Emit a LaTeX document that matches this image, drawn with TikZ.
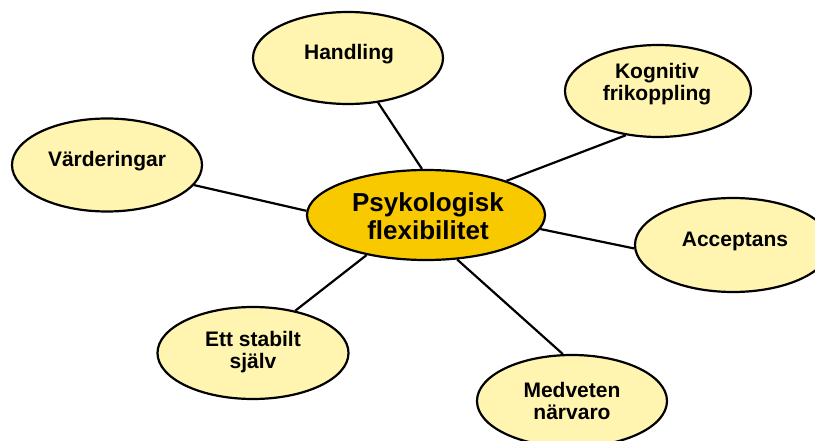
\documentclass[tikz,border=0pt]{standalone}
\usepackage{fontspec}
\setmainfont{Liberation Sans}
\usetikzlibrary{shapes.geometric}
\definecolor{pale}{HTML}{FFF5B0}
\definecolor{gold}{HTML}{F9C900}
\begin{document}
\begin{tikzpicture}[x=1pt,y=-1pt,
  bub/.style={ellipse, draw=black, line width=2.2pt, fill=pale, inner sep=0pt},
  lbl/.style={font=\fontsize{21}{22.5}\selectfont\bfseries, align=center, inner sep=0pt},
  biglbl/.style={font=\fontsize{26}{28}\selectfont\bfseries, align=center, inner sep=0pt},
  conn/.style={line width=2.2pt}]
\useasboundingbox (0,0) rectangle (815,441);
\begin{scope}
\clip (0,0) rectangle (815,441);
% ellipses
\node[bub, fill=gold, minimum width=238pt, minimum height=90pt] (c) at (426,215) {};
\node[bub, minimum width=190pt, minimum height=92pt] (h) at (348,58) {};
\node[bub, minimum width=186pt, minimum height=92pt] (k) at (658,91) {};
\node[bub, minimum width=190pt, minimum height=93pt] (v) at (107,165) {};
\node[bub, minimum width=196pt, minimum height=94pt] (a) at (733,245) {};
\node[bub, minimum width=191pt, minimum height=92pt] (e) at (253,353) {};
\node[bub, minimum width=190pt, minimum height=92pt] (m) at (572,401) {};
% labels
\node[biglbl] (ct) at (428,216) {Psykologisk\\flexibilitet};
\node[lbl] (ht) at (349,54) {Handling};
\node[lbl] (kt) at (657,84) {Kognitiv\\frikoppling};
\node[lbl] (vt) at (107,161) {Värderingar};
\node[lbl] (at) at (735,241) {Acceptans};
\node[lbl] (et) at (253,352) {Ett stabilt\\själv};
\node[lbl] (mt) at (572,401) {Medveten\\närvaro};
% connectors
\draw[conn] (h.-56) -- (c.95);
\draw[conn] (k.-126) -- (c.23);
\draw[conn] (v.-13) -- (c.178);
\draw[conn] (a.182) -- (c.-7);
\draw[conn] (e.45) -- (c.214);
\draw[conn] (m.101) -- (c.-55);
\end{scope}
\end{tikzpicture}
\end{document}
